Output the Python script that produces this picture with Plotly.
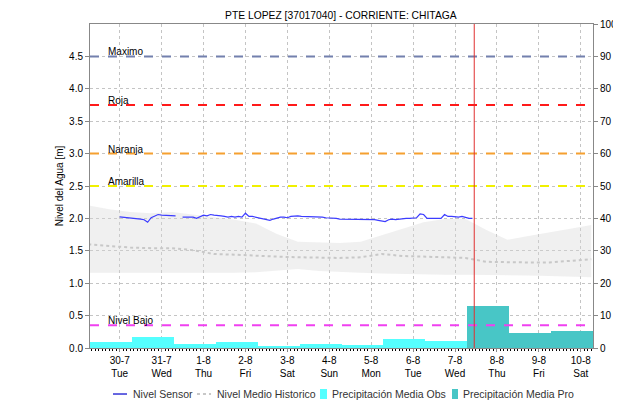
import plotly.graph_objects as go
import pandas as pd

# ---------------- data ----------------
title = "PTE LOPEZ [37017040] - CORRIENTE: CHITAGA"

tick_dates = ["2024-07-30", "2024-07-31", "2024-08-01", "2024-08-02", "2024-08-03", "2024-08-04",
              "2024-08-05", "2024-08-06", "2024-08-07", "2024-08-08", "2024-08-09", "2024-08-10"]
tick_day = ["30-7", "31-7", "1-8", "2-8", "3-8", "4-8", "5-8", "6-8", "7-8", "8-8", "9-8", "10-8"]
tick_wd = ["Tue", "Wed", "Thu", "Fri", "Sat", "Sun", "Mon", "Tue", "Wed", "Thu", "Fri", "Sat"]

# sensor level, every 2 hours from 2024-07-30 00:00 (None = gap)
sensor_start = "2024-07-30 00:00"
sensor_vals = [
    2.025, 2.02, 2.02, 2.01, 2.01, 2.00, 1.99, 1.98, 1.94, 2.01, 2.03, 2.06,
    2.05, 2.05, 2.04, 2.05, 2.04, None, 2.02, 2.02, 2.01, 2.02, 2.00, 2.03,
    2.05, 2.04, 2.06, 2.05, 2.05, 2.04, 2.03, 2.02, 2.03, 2.02, 2.03, 2.02,
    2.08, 2.03, 2.03, 2.02, 2.00, 2.00, 1.99, 1.97, 1.99, 2.01, 2.02, 2.02,
    2.01, 2.03, 2.04, 2.04, 2.03, 2.03, 2.02, 2.02, 2.02, 2.02, 2.02, 2.01,
    2.01, 2.01, 2.00, 1.99, 1.99, 1.98, 1.99, 1.98, 1.98, 1.99, 1.98, 1.98,
    1.98, 1.98, 1.97, 1.96, 1.95, 1.98, 1.99, 1.98, 1.99, 1.99, 2.00, 2.00,
    2.00, 2.01, 2.07, 2.06, 2.00, 2.00, 2.00, 2.00, 2.00, 2.06, 2.03, 2.03,
    2.02, 2.02, 2.03, 2.01, 2.00, 2.00,
]

# historical band and mean, every 12 hours from 2024-07-29 06:00
hist_start = "2024-07-29 06:00"
hist_upper = [2.20, 2.14, 2.10, 2.08, 2.10, 2.06, 2.02, 1.98, 1.92, 1.76, 1.64, 1.63, 1.62,
              1.64, 1.74, 1.84, 1.94, 1.99, 1.99, 1.82, 1.67, 1.73, 1.78, 1.84, 1.90]
hist_lower = [1.16, 1.16, 1.16, 1.16, 1.15, 1.15, 1.15, 1.16, 1.17, 1.19, 1.22, 1.19, 1.17,
              1.16, 1.15, 1.14, 1.14, 1.13, 1.13, 1.13, 1.12, 1.12, 1.11, 1.10, 1.09]
hist_mean = [1.60, 1.57, 1.55, 1.54, 1.54, 1.51, 1.45, 1.44, 1.42, 1.41, 1.40, 1.39, 1.39,
             1.40, 1.45, 1.42, 1.41, 1.41, 1.39, 1.33, 1.32, 1.32, 1.32, 1.34, 1.37]

# daily precipitation (07:00 -> 07:00), start day
precip_obs_days = ["2024-07-29", "2024-07-30", "2024-07-31", "2024-08-01", "2024-08-02",
                   "2024-08-03", "2024-08-04", "2024-08-05", "2024-08-06"]
precip_obs = [1.85, 3.3, 1.3, 2.0, 0.7, 1.3, 1.0, 2.9, 2.2]
precip_pro_days = ["2024-08-07", "2024-08-08", "2024-08-09"]
precip_pro = [13.1, 4.6, 5.1]

# thresholds
thr_names = ["Maximo", "Roja", "Naranja", "Amarilla", "Nivel Bajo"]
thr_values = [4.5, 3.75, 3.0, 2.5, 0.35]
thr_colors = ["#7380ad", "#ff1a1a", "#f5a030", "#f0f000", "#f040f0"]

now_time = "2024-08-07 11:00"
x_range = ["2024-07-29 07:00", "2024-08-10 07:00"]

# legend labels
leg_names = ["Nivel Sensor", "Nivel Medio Historico", "Precipitación Media Obs", "Precipitación Media Pro"]

# ---------------- figure ----------------
sensor_x = pd.date_range(sensor_start, periods=len(sensor_vals), freq="2h")
hist_x = pd.date_range(hist_start, periods=len(hist_upper), freq="12h")
obs_x = pd.to_datetime(precip_obs_days) + pd.Timedelta(hours=19)
pro_x = pd.to_datetime(precip_pro_days) + pd.Timedelta(hours=19)
day_ms = 86400000

C_SENSOR = "#3c3cff"
C_HIST = "#c8c8c8"
C_OBS = "#55ffff"
C_PRO = "#48c6c6"

fig = go.Figure()

fig.add_trace(go.Scatter(x=hist_x, y=hist_lower, mode="lines", line=dict(width=0),
                         showlegend=False, hoverinfo="skip"))
fig.add_trace(go.Scatter(x=hist_x, y=hist_upper, mode="lines", line=dict(width=0),
                         fill="tonexty", fillcolor="rgba(215,215,215,0.38)",
                         showlegend=False, hoverinfo="skip"))
fig.add_trace(go.Bar(x=obs_x, y=precip_obs, width=day_ms, yaxis="y2",
                     marker=dict(color=C_OBS, line=dict(width=0)),
                     name=leg_names[2], showlegend=False))
fig.add_trace(go.Bar(x=pro_x, y=precip_pro, width=day_ms, yaxis="y2",
                     marker=dict(color=C_PRO, line=dict(width=0)),
                     name=leg_names[3], showlegend=False))
fig.add_trace(go.Scatter(x=hist_x, y=hist_mean, mode="lines",
                         line=dict(color=C_HIST, width=2, dash="dot"),
                         name=leg_names[1], showlegend=False))
fig.add_trace(go.Scatter(x=sensor_x, y=sensor_vals, mode="lines",
                         line=dict(color=C_SENSOR, width=1.2),
                         connectgaps=False, name=leg_names[0], showlegend=False))

for n, v, c in zip(thr_names, thr_values, thr_colors):
    fig.add_shape(type="line", xref="paper", x0=0, x1=1, yref="y", y0=v, y1=v,
                  line=dict(color=c, width=2, dash="dash"))
    fig.add_annotation(xref="x", x=pd.Timestamp(x_range[0]) + pd.Timedelta(hours=9),
                       yref="y", y=v, text=n, showarrow=False,
                       xanchor="left", yanchor="bottom", yshift=-3,
                       font=dict(size=10, color="#000000"))

fig.add_shape(type="line", xref="x", x0=now_time, x1=now_time, yref="paper", y0=0, y1=1,
              line=dict(color="#e03030", width=1))

# ---- hand-drawn legend row (below the axis) ----
ly = -0.142
leg_font = dict(size=10.5, color="#333333")
fig.add_shape(type="line", xref="paper", yref="paper", x0=0.0457, x1=0.0736, y0=ly, y1=ly,
              line=dict(color="#0000cc", width=1.2))
fig.add_shape(type="line", xref="paper", yref="paper", x0=0.2127, x1=0.2406, y0=ly, y1=ly,
              line=dict(color=C_HIST, width=2, dash="dot"))
fig.add_shape(type="rect", xref="paper", yref="paper", x0=0.4573, x1=0.4712,
              y0=ly - 0.0155, y1=ly + 0.0155, line=dict(width=0), fillcolor=C_OBS)
fig.add_shape(type="rect", xref="paper", yref="paper", x0=0.7197, x1=0.7316,
              y0=ly - 0.0155, y1=ly + 0.0155, line=dict(width=0), fillcolor=C_PRO)
for name, tx in zip(leg_names, [0.0815, 0.2485, 0.4771, 0.7376]):
    fig.add_annotation(xref="paper", yref="paper", x=tx, y=ly, text=name, showarrow=False,
                       xanchor="left", yanchor="middle", font=leg_font)

fig.update_layout(
    width=613, height=396,
    margin=dict(l=82, r=28, t=16, b=56, autoexpand=False),
    paper_bgcolor="white", plot_bgcolor="white",
    font=dict(family="Liberation Sans, Arial, sans-serif", size=10, color="#000"),
    title=dict(text=title, xref="container", x=0.543, xanchor="center",
               yref="container", y=0.981, yanchor="middle",
               font=dict(size=10.3, color="#000")),
    barmode="overlay", bargap=0,
    showlegend=False,
    xaxis=dict(type="date", range=x_range, automargin=False,
               tickvals=tick_dates,
               ticktext=[f"{d}<br>{w}" for d, w in zip(tick_day, tick_wd)],
               showgrid=True, gridcolor="#c4c4c4", griddash="dot", gridwidth=1,
               showline=True, linecolor="#888", mirror=True,
               ticks="outside", ticklen=3, tickcolor="#888",
               minor=dict(ticks="outside", ticklen=2, dtick=2 * 3600000, tickcolor="#000",
                          showgrid=False),
               tickfont=dict(size=10), zeroline=False),
    yaxis=dict(range=[0, 5], automargin=False,
               tickvals=[0, 0.5, 1, 1.5, 2, 2.5, 3, 3.5, 4, 4.5],
               ticktext=["0.0", "0.5", "1.0", "1.5", "2.0", "2.5", "3.0", "3.5", "4.0", "4.5"],
               showgrid=True, gridcolor="#c4c4c4", griddash="dot",
               showline=True, linecolor="#888", mirror=True,
               ticks="outside", ticklen=4, tickcolor="#888", zeroline=False,
               title=dict(text="Nivel del Agua [m]", font=dict(size=10), standoff=3),
               tickfont=dict(size=10)),
    yaxis2=dict(range=[0, 100], overlaying="y", side="right", dtick=10, automargin=False,
                showgrid=False, showline=True, linecolor="#888",
                ticks="outside", ticklen=4, tickcolor="#888", zeroline=False,
                tickfont=dict(size=10)),
)

fig.write_html("out.html")
